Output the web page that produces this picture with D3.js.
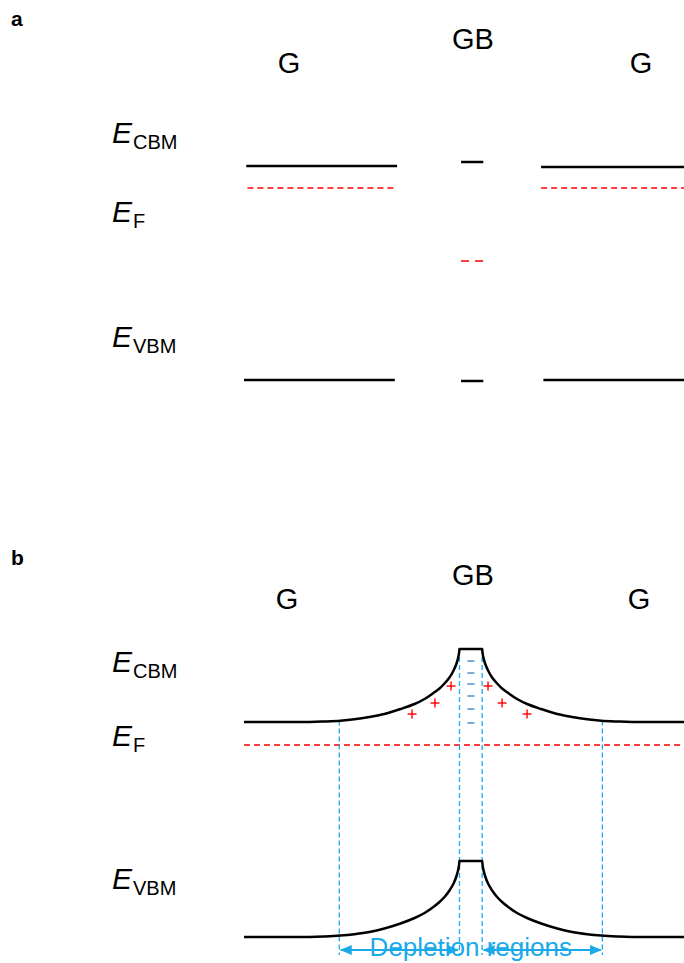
<!DOCTYPE html>
<html>
<head>
<meta charset="utf-8">
<script src="https://cdn.jsdelivr.net/npm/d3@7"></script>
<style>
  html, body { margin: 0; padding: 0; background: #fff; }
  svg { display: block; }
  text { font-family: "Liberation Sans", Arial, sans-serif; }
</style>
</head>
<body>
<div id="chart"></div>
<script>
// ---------- data ----------
// position along the film (arbitrary length units, grain boundary centred at 0)
// panel a: flat band levels in each region (energy in eV)
const regionNames = ["G", "GB", "G"];
const regionStartA = [-99, -4.3, 31];
const regionEndA = [-32.5, 5.5, 94];
const cbmA = [2.34, 2.38, 2.33];
const efA = [2.12, 1.39, 2.12];
const efStartA = [-98.5, -4.3, 31];
const efEndA = [-33.5, 5.5, 94];
const vbmA = [0.20, 0.19, 0.20];
const vbmStartA = [-100, -4.3, 32];
const vbmEndA = [-33.5, 5.5, 94];

// panel b: bent bands
const gbHalfWidth = 5;             // grain boundary core half width
const depletionEdge = 58;          // depletion region edge (distance from GB centre)
const cbmFlatB = 2.35;
const vbmFlatB = 0.20;
const efB = 2.12;
// band bending profile: distance from GB centre vs upward bending (eV)
const bendDist = [5, 5.4, 6.3, 7.6, 9.4, 11.6, 13.8, 16.5, 20.4, 24.8, 31, 38.1, 44.7, 51.3, 57.5, 64.5, 71.1, 100];
const cbmBend = [0.73, 0.66, 0.585, 0.515, 0.445, 0.385, 0.335, 0.29, 0.23, 0.18, 0.13, 0.08, 0.05, 0.027, 0.013, 0.005, 0, 0];
const vbmBend = [0.76, 0.69, 0.61, 0.535, 0.465, 0.40, 0.35, 0.30, 0.24, 0.19, 0.135, 0.085, 0.05, 0.028, 0.014, 0.005, 0, 0];
// trapped negative charge in the GB, positive ions in the depletion regions
const minusE = [2.96, 2.84, 2.73, 2.61, 2.48, 2.34];
const plusX = [-25.9, -15.8, -8.7, 7.6, 13.8, 24.8];
const plusE = [2.43, 2.54, 2.71, 2.71, 2.54, 2.43];

const W = 684, H = 963;
const blue = "#1aa9e9";
const red = "#ff0000";

const svg = d3.select("#chart").append("svg")
  .attr("width", W).attr("height", H)
  .attr("viewBox", `0 0 ${W} ${H}`);
svg.append("rect").attr("width", W).attr("height", H).attr("fill", "#fff");

const x = d3.scaleLinear().domain([-100, 94]).range([244, 684]);
const yA = d3.scaleLinear().domain([0, 3]).range([400, 100]);
const yB = d3.scaleLinear().domain([0, 3]).range([957, 657]);

const defs = svg.append("defs");
defs.append("marker").attr("id", "ahead")
  .attr("viewBox", "0 0 12 10").attr("refX", 11).attr("refY", 5)
  .attr("markerWidth", 12).attr("markerHeight", 10)
  .attr("markerUnits", "userSpaceOnUse").attr("orient", "auto-start-reverse")
  .append("path").attr("d", "M0,0 L12,5 L0,10 Z").attr("fill", blue);
defs.append("clipPath").attr("id", "bandClip")
  .append("rect").attr("x", x(-100)).attr("y", 0).attr("width", x(94) - x(-100)).attr("height", H);

// energy-level labels: italic E with upright subscript
function eLabel(g, xPos, yBase, sub) {
  const t = g.append("text").attr("x", xPos).attr("y", yBase)
    .attr("font-size", 30).attr("fill", "#000");
  t.append("tspan").attr("font-style", "italic").text("E");
  t.append("tspan").attr("font-size", 20).attr("dy", 6).attr("dx", 1).text(sub);
}
function regionLabels(g, xs, ys) {
  regionNames.forEach((n, i) => {
    g.append("text").attr("x", xs[i]).attr("y", ys[i])
      .attr("text-anchor", "middle").attr("font-size", 29).text(n);
  });
}

// ---------- panel a ----------
const ga = svg.append("g");
ga.append("text").attr("x", 11).attr("y", 26).attr("font-size", 21)
  .attr("font-weight", "bold").text("a");
regionLabels(ga, [289, 473, 641], [73, 49, 73]);
eLabel(ga, 112, 143, "CBM");
eLabel(ga, 112, 222, "F");
eLabel(ga, 112, 347, "VBM");

ga.selectAll("line.cbm").data(cbmA).join("line").attr("class", "cbm")
  .attr("x1", (d, i) => x(regionStartA[i])).attr("x2", (d, i) => x(regionEndA[i]))
  .attr("y1", d => yA(d)).attr("y2", d => yA(d))
  .attr("stroke", "#000").attr("stroke-width", 2.5);
ga.selectAll("line.vbm").data(vbmA).join("line").attr("class", "vbm")
  .attr("x1", (d, i) => x(vbmStartA[i])).attr("x2", (d, i) => x(vbmEndA[i]))
  .attr("y1", d => yA(d)).attr("y2", d => yA(d))
  .attr("stroke", "#000").attr("stroke-width", 2.5);
ga.selectAll("line.ef").data(efA).join("line").attr("class", "ef")
  .attr("x1", (d, i) => x(efStartA[i])).attr("x2", (d, i) => x(efEndA[i]))
  .attr("y1", d => yA(d)).attr("y2", d => yA(d))
  .attr("stroke", red).attr("stroke-width", 1.6)
  .attr("stroke-dasharray", (d, i) => i === 1 ? "8,6" : "6,4");

// ---------- panel b ----------
const gb = svg.append("g");
gb.append("text").attr("x", 11).attr("y", 565).attr("font-size", 21)
  .attr("font-weight", "bold").text("b");
regionLabels(gb, [287, 473, 639], [609, 585, 609]);
eLabel(gb, 112, 672, "CBM");
eLabel(gb, 112, 746, "F");
eLabel(gb, 112, 889, "VBM");

// band flanks (smooth) joined by the flat GB top
function flank(flat, bend, side) {
  return bendDist.map((d, i) => [side * d, flat + bend[i]]);
}
const smooth = d3.line().x(d => x(d[0])).y(d => yB(d[1])).curve(d3.curveCatmullRom.alpha(0.5));
function bandPath(flat, bend) {
  const left = smooth(flank(flat, bend, -1).reverse());
  const right = smooth(flank(flat, bend, 1));
  // left flank ends at the GB edge; draw the flat top, then continue along the right flank
  return left + "L" + right.slice(1);
}

// Fermi level
gb.append("line")
  .attr("x1", x(-100)).attr("x2", x(94))
  .attr("y1", yB(efB)).attr("y2", yB(efB))
  .attr("stroke", red).attr("stroke-width", 1.3).attr("stroke-dasharray", "6,4");

// depletion / GB boundaries
const bounds = [
  { xv: -depletionEdge, top: cbmFlatB + 0.015 },
  { xv: -gbHalfWidth, top: cbmFlatB + cbmBend[0] },
  { xv: gbHalfWidth, top: cbmFlatB + cbmBend[0] },
  { xv: depletionEdge, top: cbmFlatB + 0.015 }
];
gb.selectAll("line.bound").data(bounds).join("line").attr("class", "bound")
  .attr("x1", d => x(d.xv)).attr("x2", d => x(d.xv))
  .attr("y1", d => yB(d.top)).attr("y2", yB(0.02))
  .attr("stroke", blue).attr("stroke-width", 1.3).attr("stroke-dasharray", "5,3");

const bands = gb.append("g").attr("clip-path", "url(#bandClip)");
bands.append("path").attr("d", bandPath(cbmFlatB, cbmBend))
  .attr("fill", "none").attr("stroke", "#000").attr("stroke-width", 2.5).attr("stroke-linejoin", "round");
bands.append("path").attr("d", bandPath(vbmFlatB, vbmBend))
  .attr("fill", "none").attr("stroke", "#000").attr("stroke-width", 2.5).attr("stroke-linejoin", "round");

// trapped charges
gb.selectAll("line.minus").data(minusE).join("line").attr("class", "minus")
  .attr("x1", x(-1.5)).attr("x2", x(1.6))
  .attr("y1", d => yB(d)).attr("y2", d => yB(d))
  .attr("stroke", "#6fa3d8").attr("stroke-width", 1.8);
const plus = gb.selectAll("g.plus").data(plusX).join("g").attr("class", "plus")
  .attr("transform", (d, i) => `translate(${x(d)},${yB(plusE[i])})`);
plus.append("line").attr("x1", -4.5).attr("x2", 4.5).attr("stroke", red).attr("stroke-width", 1.4);
plus.append("line").attr("y1", -4.5).attr("y2", 4.5).attr("stroke", red).attr("stroke-width", 1.4);

// depletion-region arrows
const arrowE = 0.07;
const spans = [[-depletionEdge, -gbHalfWidth], [gbHalfWidth, depletionEdge]];
gb.selectAll("line.arrow").data(spans).join("line").attr("class", "arrow")
  .attr("x1", d => x(d[0]) + 1.5).attr("x2", d => x(d[1]) - 1.5)
  .attr("y1", yB(arrowE)).attr("y2", yB(arrowE))
  .attr("stroke", blue).attr("stroke-width", 2)
  .attr("marker-start", "url(#ahead)").attr("marker-end", "url(#ahead)");
gb.append("text").attr("x", x(0)).attr("y", 956).attr("text-anchor", "middle")
  .attr("font-size", 26).attr("fill", blue).text("Depletion regions");
</script>
</body>
</html>
